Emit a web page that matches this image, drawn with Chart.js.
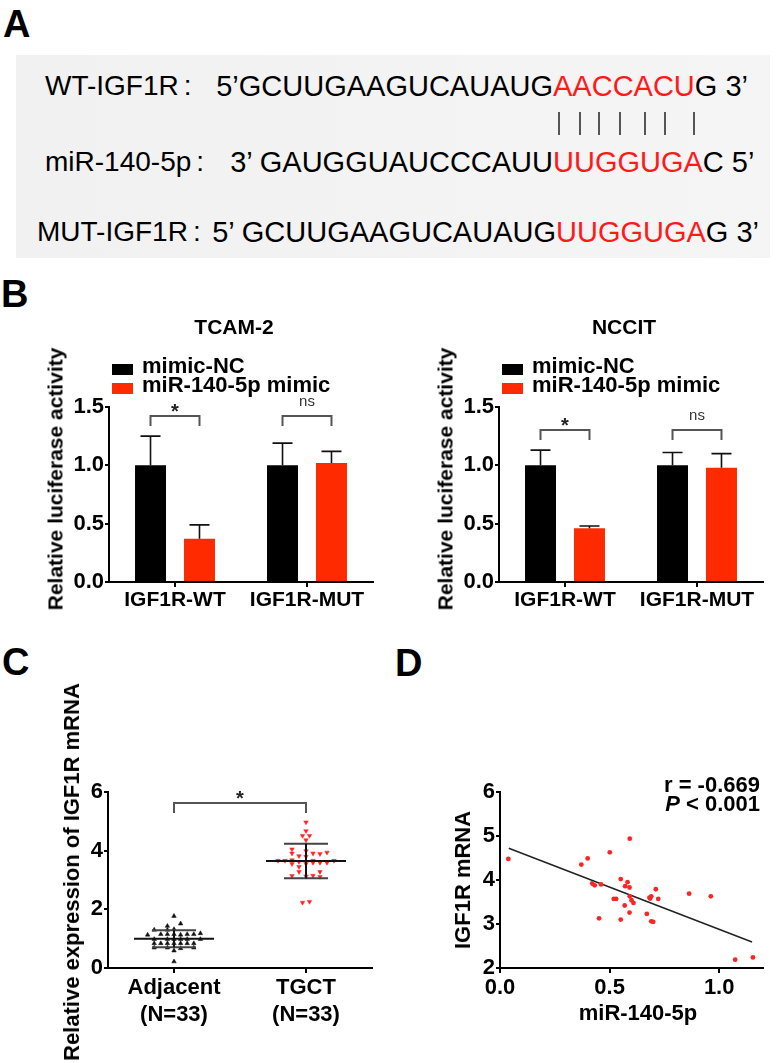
<!DOCTYPE html>
<html><head><meta charset="utf-8">
<script src="https://cdn.jsdelivr.net/npm/chart.js@4.4.1/dist/chart.umd.min.js"></script>
<style>
html,body{margin:0;padding:0;background:#fff;}
#page{position:relative;width:777px;height:1063px;overflow:hidden;font-family:"Liberation Sans",Arial,Helvetica,sans-serif;color:#000;}
.t{position:absolute;white-space:nowrap;line-height:1;}
canvas{position:absolute;}
.box{position:absolute;}
</style></head><body><div id="page">
<div class="box" style="left:16px;top:55px;width:754px;height:203px;background:linear-gradient(90deg,#f1f1f1,#f5f5f5);"></div>
<canvas id="b1" width="390" height="290" style="left:0;top:330px"></canvas>
<canvas id="b2" width="387" height="290" style="left:390px;top:330px"></canvas>
<canvas id="c1" width="390" height="303" style="left:0;top:760px"></canvas>
<canvas id="d1" width="387" height="303" style="left:390px;top:760px"></canvas>
</div>
<script>
// ---------------- data ----------------
const barCategories = ['IGF1R-WT', 'IGF1R-MUT'];
const seriesNames = ['mimic-NC', 'miR-140-5p mimic'];
const tcamNC = [1.00, 1.00];
const tcamNCErr = [0.25, 0.19];
const tcamMimic = [0.37, 1.02];
const tcamMimicErr = [0.12, 0.10];
const tcamSigLabels = ['*', 'ns'];
const tcamSigLevels = [1.42, 1.42];
const nccitNC = [1.00, 1.00];
const nccitNCErr = [0.13, 0.11];
const nccitMimic = [0.46, 0.98];
const nccitMimicErr = [0.02, 0.12];
const nccitSigLabels = ['*', 'ns'];
const nccitSigLevels = [1.30, 1.30];
const barTicks = [0, 0.5, 1.0, 1.5];

const groupNames = ['Adjacent', 'TGCT'];
const groupN = ['(N=33)', '(N=33)'];
const groupPos = [1, 2];
const adjacentValues = [1.77,1.43,1.51,1.30,1.32,1.30,1.13,1.15,1.15,1.15,1.13,1.15,1.15,1.18,0.98,0.98,0.98,0.98,0.98,0.98,0.84,0.84,0.84,0.84,0.84,0.84,0.84,0.69,0.69,0.67,0.59,0.69,0.22];
const adjacentCols = [0,-1,1,-1,0,-3,-4,-2,-1,0,1,2,3,4,-3,-1,0,1,2,4,-3,-2,-1,0,1,2,3,-3,-1,1,0,3,0];
const tgctValues = [4.97,4.67,4.51,4.51,4.36,4.05,3.99,3.91,3.82,3.91,3.89,3.94,3.80,3.66,3.66,3.68,3.66,3.66,3.55,3.45,3.55,3.59,3.59,3.59,3.28,3.28,3.14,3.15,3.11,2.23,2.26,3.62,3.13];
const tgctCols = [0,0,-0.5,0.5,0,-2,0,-2,-1,1,2,3,0,-4,-3,-2,1,4,-2,-1,0,1,2,3,-1,2,-2,1,2,-0.5,0.5,-1,0];
const groupMeans = [1.00, 3.65];
const groupSDs = [0.29, 0.59];
const groupSigLabel = '*';
const groupSigLevel = 5.63;
const exprTicks = [0, 2, 4, 6];

const mirValues = [0.038,0.371,0.40,0.501,0.592,0.421,0.432,0.461,0.551,0.582,0.571,0.591,0.519,0.530,0.592,0.600,0.609,0.569,0.591,0.452,0.551,0.670,0.682,0.690,0.685,0.711,0.722,0.690,0.699,0.863,0.962,1.073,1.154];
const igfValues = [4.48,4.35,4.49,4.63,4.94,3.92,3.88,3.90,4.02,3.95,3.86,3.83,3.57,3.57,3.63,3.54,3.48,3.42,3.26,3.13,3.10,3.23,3.60,3.63,3.58,3.79,3.57,3.06,3.05,3.69,3.63,2.19,2.24];
const fitX = [0.04, 1.15];
const fitY = [4.72, 2.59];
const corrTicksX = [0, 0.5, 1.0];
const corrTicksY = [2, 3, 4, 5, 6];
const corrText = ['r = -0.669', 'P', ' < 0.001'];

// ---------------- styles ----------------
const F = "'Liberation Sans', Arial, Helvetica, sans-serif";
const RED_BAR = '#ff2a00';
const RED_PT = '#ff2424';
const page = document.getElementById('page');

function T(html, x, y, o) {
  o = o || {};
  const d = document.createElement('div');
  d.className = 't';
  d.innerHTML = html;
  d.style.left = x + 'px';
  d.style.top = y + 'px';
  d.style.fontSize = (o.size || 20) + 'px';
  d.style.fontWeight = o.bold ? 'bold' : 'normal';
  if (o.color) d.style.color = o.color;
  const ax = o.align === 'c' ? '-50%' : (o.align === 'r' ? '-100%' : '0');
  let tr = 'translate(' + ax + ',-50%)';
  if (o.rot) tr = 'translate(-50%,-50%) rotate(-90deg)';
  d.style.transform = tr;
  page.appendChild(d);
  return d;
}
function R(x, y, w, h, c) {
  const d = document.createElement('div');
  d.className = 'box';
  d.style.cssText = `left:${x}px;top:${y}px;width:${w}px;height:${h}px;background:${c};`;
  page.appendChild(d);
}

// ---------------- panel letters ----------------
T('A', 3, 24, {size: 38, bold: true});
T('B', 1, 294, {size: 38, bold: true});
T('C', 2, 662, {size: 38, bold: true});
T('D', 395, 663, {size: 38, bold: true});

// ---------------- panel A ----------------
const SEQ = 29, REDTXT = '#ff1a1a';
function seqLine(label, lx, cy, prefix, redX, red, suffix) {
  T(label + '<span style="margin-left:5px">:</span>', lx, cy, {size: 28});
  T(prefix, redX, cy, {size: SEQ, align: 'r'});
  T('<span style="color:' + REDTXT + '">' + red + '</span>' + suffix, redX, cy, {size: SEQ});
}
seqLine('WT-IGF1R', 45, 86, '5\u2019GCUUGAAGUCAUAUG', 553, 'AACCACU', 'G 3\u2019');
seqLine('miR-140-5p', 45, 162, '3\u2019 GAUGGUAUCCCAUU', 553, 'UUGGUGA', 'C 5\u2019');
seqLine('MUT-IGF1R', 37, 232, '5\u2019 GCUUGAAGUCAUAUG', 556, 'UUGGUGA', 'G 3\u2019');
[558, 579, 598, 619, 644, 664, 693].forEach(x => R(x, 112, 1.5, 23, '#555'));

// ---------------- plugins ----------------
const errorBarPlugin = {
  id: 'errbars',
  afterDatasetsDraw(chart) {
    const ctx = chart.ctx, y = chart.scales.y;
    chart.data.datasets.forEach((ds, di) => {
      if (!ds.errors) return;
      chart.getDatasetMeta(di).data.forEach((el, i) => {
        const top = y.getPixelForValue(ds.data[i] + ds.errors[i]);
        ctx.save();
        ctx.strokeStyle = '#111'; ctx.lineWidth = 1.6;
        ctx.beginPath();
        ctx.moveTo(el.x, el.y); ctx.lineTo(el.x, top);
        ctx.moveTo(el.x - 10, top); ctx.lineTo(el.x + 10, top);
        ctx.stroke(); ctx.restore();
      });
    });
  }
};
function sigText(ctx, label, x, py) {
  ctx.textAlign = 'center'; ctx.textBaseline = 'alphabetic';
  if (label === 'ns') {
    ctx.font = '15px ' + F; ctx.fillStyle = '#333';
    ctx.fillText('ns', x, py - 14 + 0.26 * 15);
  } else {
    ctx.font = 'bold 20px ' + F; ctx.fillStyle = '#222';
    ctx.fillText(label, x, py - 10 + 0.58 * 20);
  }
}
function bracket(ctx, x0, x1, py, drop) {
  ctx.save(); ctx.strokeStyle = '#555'; ctx.lineWidth = 2;
  ctx.beginPath();
  ctx.moveTo(x0, py + drop); ctx.lineTo(x0, py); ctx.lineTo(x1, py); ctx.lineTo(x1, py + drop);
  ctx.stroke(); ctx.restore();
}
const sigPlugin = {
  id: 'sig',
  afterDatasetsDraw(chart, args, opts) {
    if (!opts.levels) return;
    const ctx = chart.ctx, y = chart.scales.y;
    const m0 = chart.getDatasetMeta(0), m1 = chart.getDatasetMeta(1);
    opts.levels.forEach((lv, i) => {
      const x0 = m0.data[i].x, x1 = m1.data[i].x, py = Math.round(y.getPixelForValue(lv));
      bracket(ctx, x0, x1, py, 10);
      sigText(ctx, opts.labels[i], (x0 + x1) / 2, py);
    });
  }
};
const meanSdPlugin = {
  id: 'meansd',
  afterDatasetsDraw(chart, args, opts) {
    if (!opts.means) return;
    const ctx = chart.ctx, xs = chart.scales.x, ys = chart.scales.y;
    ctx.save(); ctx.lineWidth = 2;
    opts.means.forEach((m, i) => {
      const x = xs.getPixelForValue(opts.pos[i]);
      const ym = ys.getPixelForValue(m), yt = ys.getPixelForValue(m + opts.sds[i]), yb = ys.getPixelForValue(m - opts.sds[i]);
      ctx.strokeStyle = '#444';
      ctx.beginPath();
      ctx.moveTo(x - 22, yt); ctx.lineTo(x + 22, yt);
      ctx.moveTo(x - 22, yb); ctx.lineTo(x + 22, yb);
      ctx.stroke();
      ctx.strokeStyle = '#111';
      ctx.beginPath();
      ctx.moveTo(x - 40, ym); ctx.lineTo(x + 40, ym);
      ctx.moveTo(x, yt); ctx.lineTo(x, yb);
      ctx.stroke();
    });
    ctx.restore();
    const x0 = xs.getPixelForValue(opts.pos[0]), x1 = xs.getPixelForValue(opts.pos[1]);
    const py = Math.round(ys.getPixelForValue(opts.sigLevel));
    bracket(ctx, x0, x1, py, 10);
    sigText(ctx, opts.sigLabel, (x0 + x1) / 2, py);
  }
};

const tickFont = {family: F, size: 22, weight: 'bold'};
function axisBase() {
  return {
    border: {color: '#000', width: 2},
    grid: {drawOnChartArea: false, color: '#000', lineWidth: 2, tickLength: 5},
  };
}

// ---------------- panel B ----------------
function barChart(id, nc, ncErr, mimic, mimicErr, sigLabels, sigLevels, padLeftAxis, padRight) {
  return new Chart(document.getElementById(id), {
    type: 'bar',
    data: {
      labels: barCategories,
      datasets: [
        {label: seriesNames[0], data: nc, errors: ncErr, backgroundColor: '#000'},
        {label: seriesNames[1], data: mimic, errors: mimicErr, backgroundColor: RED_BAR}
      ]
    },
    options: {
      responsive: false, animation: false, devicePixelRatio: 1,
      layout: {padding: {top: 77, right: padRight, left: 0, bottom: 0}},
      datasets: {bar: {categoryPercentage: 0.742, barPercentage: 0.633}},
      plugins: {legend: {display: false}, tooltip: {enabled: false}, sig: {levels: sigLevels, labels: sigLabels}},
      scales: {
        x: Object.assign(axisBase(), {
          grid: {offset: false, drawOnChartArea: false, color: '#000', lineWidth: 2, tickLength: 5},
          ticks: {font: {family: F, size: 21, weight: 'bold'}, color: '#000', padding: 1, maxRotation: 0, autoSkip: false},
          afterFit: s => { s.height = 38; }
        }),
        y: Object.assign(axisBase(), {
          min: 0, max: 1.5,
          afterBuildTicks: s => { s.ticks = barTicks.map(v => ({value: v})); },
          ticks: {font: tickFont, color: '#000', padding: 1, callback: v => Number(v).toFixed(1)},
          grid: {drawOnChartArea: false, color: '#000', lineWidth: 2, tickLength: 4},
          afterFit: s => { s.width = padLeftAxis; }
        })
      }
    },
    plugins: [errorBarPlugin, sigPlugin]
  });
}
barChart('b1', tcamNC, tcamNCErr, tcamMimic, tcamMimicErr, tcamSigLabels, tcamSigLevels, 109, 17);
barChart('b2', nccitNC, nccitNCErr, nccitMimic, nccitMimicErr, nccitSigLabels, nccitSigLevels, 109, 14);

T('TCAM-2', 234, 326, {size: 21, bold: true, align: 'c'});
T('NCCIT', 624, 326, {size: 21, bold: true, align: 'c'});
[[0, 0], [390, 1]].forEach(([ox]) => {
  R(112 + ox, 364, 21, 11, '#000');
  R(112 + ox, 383, 21, 11, RED_BAR);
  T(seriesNames[0], 142 + ox, 366, {size: 22, bold: true});
  T(seriesNames[1], 142 + ox, 385, {size: 22, bold: true});
  T('Relative luciferase activity', 55 + ox, 479, {size: 21, bold: true, rot: true});
});

// ---------------- panel C ----------------
new Chart(document.getElementById('c1'), {
  type: 'scatter',
  data: {
    datasets: [
      {label: groupNames[0], data: adjacentValues.map((v, i) => ({x: groupPos[0] + adjacentCols[i] * 0.05, y: v})),
       pointStyle: 'triangle', radius: 2.6, backgroundColor: '#111', borderColor: '#111', borderWidth: 0.5},
      {label: groupNames[1], data: tgctValues.map((v, i) => ({x: groupPos[1] + tgctCols[i] * 0.053, y: v})),
       pointStyle: 'triangle', rotation: 180, radius: 2.6, backgroundColor: RED_PT, borderColor: RED_PT, borderWidth: 0.5}
    ]
  },
  options: {
    responsive: false, animation: false, devicePixelRatio: 1,
    layout: {padding: {top: 32, right: 18, left: 0, bottom: 0}},
    plugins: {legend: {display: false}, tooltip: {enabled: false},
      meansd: {means: groupMeans, sds: groupSDs, pos: groupPos, sigLevel: groupSigLevel, sigLabel: groupSigLabel}},
    scales: {
      x: Object.assign(axisBase(), {
        type: 'linear', min: 0.5, max: 2.5,
        afterBuildTicks: s => { s.ticks = groupPos.map(v => ({value: v})); },
        ticks: {font: {family: F, size: 22, weight: 'bold', lineHeight: 1.22}, color: '#000', padding: 2, maxRotation: 0,
          callback: (v, i) => [groupNames[i], groupN[i]]},
        afterFit: s => { s.height = 95; }
      }),
      y: Object.assign(axisBase(), {
        min: 0, max: 6,
        afterBuildTicks: s => { s.ticks = exprTicks.map(v => ({value: v})); },
        ticks: {font: tickFont, color: '#000', padding: 1},
        grid: {drawOnChartArea: false, color: '#000', lineWidth: 2, tickLength: 4},
        afterFit: s => { s.width = 108; }
      })
    }
  },
  plugins: [meanSdPlugin]
});
T('Relative expression of IGF1R mRNA', 72, 872, {size: 22, bold: true, rot: true});

// ---------------- panel D ----------------
new Chart(document.getElementById('d1'), {
  type: 'scatter',
  data: {
    datasets: [
      {label: 'samples', data: mirValues.map((v, i) => ({x: v, y: igfValues[i]})),
       pointStyle: 'circle', radius: 2.4, backgroundColor: RED_PT, borderWidth: 0},
      {label: 'fit', type: 'line', data: fitX.map((v, i) => ({x: v, y: fitY[i]})),
       borderColor: '#222', borderWidth: 1.5, pointRadius: 0, showLine: true, fill: false}
    ]
  },
  options: {
    responsive: false, animation: false, devicePixelRatio: 1,
    layout: {padding: {top: 32, right: 14, left: 0, bottom: 0}},
    plugins: {legend: {display: false}, tooltip: {enabled: false}},
    scales: {
      x: Object.assign(axisBase(), {
        type: 'linear', min: 0, max: 1.2,
        afterBuildTicks: s => { s.ticks = corrTicksX.map(v => ({value: v})); },
        ticks: {font: tickFont, color: '#000', padding: 2, maxRotation: 0, callback: v => Number(v).toFixed(1)},
        afterFit: s => { s.height = 95; }
      }),
      y: Object.assign(axisBase(), {
        min: 2, max: 6,
        afterBuildTicks: s => { s.ticks = corrTicksY.map(v => ({value: v})); },
        ticks: {font: tickFont, color: '#000', padding: 1},
        grid: {drawOnChartArea: false, color: '#000', lineWidth: 2, tickLength: 4},
        afterFit: s => { s.width = 110; }
      })
    }
  }
});
T('IGF1R mRNA', 463, 880, {size: 22, bold: true, rot: true});
T('miR-140-5p', 638, 1013, {size: 22, bold: true, align: 'c'});
T(corrText[0], 760, 785, {size: 22, bold: true, align: 'r'});
T('<i>' + corrText[1] + '</i>' + corrText[2], 760, 804, {size: 22, bold: true, align: 'r'});
</script>
</body></html>
